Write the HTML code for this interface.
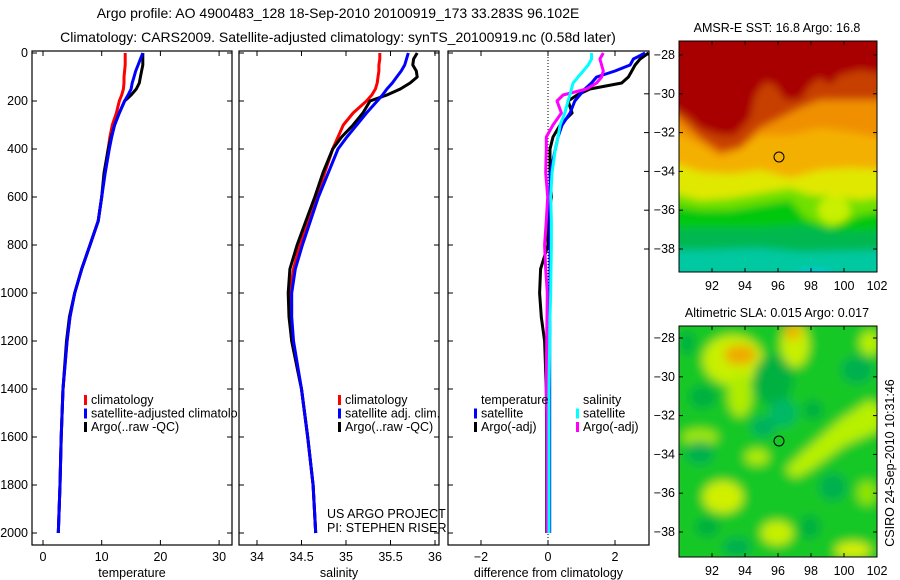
<!DOCTYPE html>
<html><head><meta charset="utf-8">
<style>
html,body{margin:0;padding:0;background:#fff;}
svg{display:block;font-family:"Liberation Sans",Arial,sans-serif;}
text{fill:#000;}
</style></head>
<body>
<svg id="fig" width="900" height="580" viewBox="0 0 900 580" xmlns="http://www.w3.org/2000/svg">
<defs>
  <clipPath id="c1"><rect x="32" y="51" width="200" height="494"/></clipPath>
  <clipPath id="c1l"><rect x="32" y="51" width="206" height="494"/></clipPath>
  <clipPath id="c2"><rect x="239" y="51" width="200" height="494"/></clipPath>
  <clipPath id="c3"><rect x="448" y="51" width="201" height="494"/></clipPath>
  <clipPath id="cm1"><rect x="679" y="41" width="198" height="231"/></clipPath>
  <clipPath id="cm2"><rect x="679" y="326" width="198" height="231"/></clipPath>
  <filter id="blur" x="-20%" y="-20%" width="140%" height="140%"><feGaussianBlur stdDeviation="4"/></filter>
  <filter id="blur2" x="-20%" y="-20%" width="140%" height="140%"><feGaussianBlur stdDeviation="5"/></filter>
</defs>

<text x="338" y="18" font-size="14" text-anchor="middle">Argo profile: AO 4900483_128 18-Sep-2010 20100919_173 33.283S 96.102E</text>
<text x="338" y="42" font-size="14" text-anchor="middle">Climatology: CARS2009. Satellite-adjusted climatology: synTS_20100919.nc (0.58d later)</text>

<g id="p1"></g>
<g id="p2"></g>
<g id="p3"></g>

<g>
 <text x="777" y="32" font-size="12.5" text-anchor="middle">AMSR-E SST: 16.8 Argo: 16.8</text>
 <g clip-path="url(#cm1)">
  <g filter="url(#blur)">
   <rect x="670" y="30" width="220" height="260" fill="#00c8a0"/>
   <polygon fill="#00b850" points="670,30 890,30 890,250 800,252 760,248 700,250 670,250"/>
   <polygon fill="#00c810" points="670,30 890,30 890,230 840,232 800,225 760,228 700,228 670,228"/>
   <polygon fill="#70e000" points="670,30 890,30 890,210 860,215 830,228 805,218 790,200 760,205 730,210 700,210 670,205"/>
   <ellipse cx="834" cy="210" rx="16" ry="14" fill="#c8f000"/>
   <polygon fill="#e0e800" points="670,30 890,30 890,195 860,200 830,196 810,195 790,188 760,193 730,198 700,200 670,192"/>
   <polygon fill="#f4b000" points="670,30 890,30 890,170 850,168 820,170 790,178 760,170 730,174 700,172 670,162"/>
   <polygon fill="#f09000" points="670,30 890,30 890,140 850,132 820,128 790,135 760,135 740,150 720,158 700,145 670,128"/>
   <polygon fill="#c84000" points="670,30 890,30 890,100 840,100 820,100 800,108 780,118 760,128 740,148 720,152 700,138 679,118 670,112"/>
   <polygon fill="#a80000" points="670,30 890,30 890,75 860,70 840,75 830,85 820,78 810,85 800,100 785,100 775,85 765,82 755,95 750,118 735,135 720,135 700,128 690,118 670,105"/>
  </g>
  <rect x="800" y="268" width="30" height="6" fill="#00c8e0" filter="url(#blur)"/>
 </g>
 <rect x="679" y="41" width="198" height="231" fill="none" stroke="#000" stroke-width="1"/>
 <circle cx="779" cy="157" r="5" fill="none" stroke="#000" stroke-width="1"/>
 <g id="m1ticks"></g>
</g>

<g>
 <text x="777" y="317" font-size="12.5" text-anchor="middle">Altimetric SLA: 0.015 Argo: 0.017</text>
 <g clip-path="url(#cm2)">
  <g filter="url(#blur2)">
   <rect x="670" y="316" width="220" height="250" fill="#18c828"/>
   <ellipse cx="733" cy="360" rx="30" ry="25" fill="#c8f000"/>
   <ellipse cx="740" cy="395" rx="12" ry="22" fill="#b0ec00"/>
   <ellipse cx="740" cy="355" rx="16" ry="10" fill="#f0a800"/>
   <ellipse cx="795" cy="345" rx="14" ry="22" fill="#c8f000"/>
   <ellipse cx="793" cy="332" rx="8" ry="8" fill="#f0b000"/>
   <polygon fill="#b8f000" points="785,470 800,455 840,420 870,400 885,410 880,430 845,445 810,470 795,478"/>
   <ellipse cx="723" cy="497" rx="20" ry="16" fill="#d0f000"/>
   <ellipse cx="700" cy="437" rx="18" ry="8" fill="#a0e800"/>
   <ellipse cx="757" cy="457" rx="12" ry="8" fill="#b0ec00"/>
   <ellipse cx="777" cy="533" rx="16" ry="12" fill="#c8f000"/>
   <ellipse cx="853" cy="550" rx="18" ry="8" fill="#d8f000"/>
   <ellipse cx="870" cy="343" rx="10" ry="12" fill="#b8f000"/>
   <ellipse cx="867" cy="493" rx="10" ry="12" fill="#90e400"/>
   <ellipse cx="773" cy="380" rx="20" ry="25" fill="#00b040"/>
   <ellipse cx="783" cy="413" rx="14" ry="14" fill="#00b868"/>
   <ellipse cx="763" cy="427" rx="12" ry="10" fill="#00b060"/>
   <ellipse cx="703" cy="397" rx="14" ry="12" fill="#00b040"/>
   <ellipse cx="700" cy="453" rx="14" ry="12" fill="#00b050"/>
   <ellipse cx="857" cy="370" rx="16" ry="14" fill="#00b050"/>
   <ellipse cx="833" cy="487" rx="14" ry="14" fill="#00b050"/>
   <ellipse cx="737" cy="547" rx="14" ry="10" fill="#00b050"/>
   <ellipse cx="810" cy="527" rx="10" ry="12" fill="#00b040"/>
   <ellipse cx="813" cy="410" rx="10" ry="10" fill="#00b040"/>
   <ellipse cx="687" cy="343" rx="8" ry="12" fill="#00b040"/>
   <ellipse cx="707" cy="527" rx="12" ry="10" fill="#00b040"/>
  </g>
 </g>
 <rect x="679" y="326" width="198" height="231" fill="none" stroke="#000" stroke-width="1"/>
 <circle cx="779" cy="441" r="5" fill="none" stroke="#000" stroke-width="1"/>
 <g id="m2ticks"></g>
</g>

<text transform="translate(894,463) rotate(-90)" font-size="12.5" text-anchor="middle">CSIRO 24-Sep-2010 10:31:46</text>
</svg>

<script>
const depthLevels = [0,25,50,75,100,125,150,175,200,250,300,350,400,500,600,700,800,900,1000,1100,1200,1400,1600,1800,2000];
const tempClim = [14.0,14.0,14.0,13.9,13.8,13.8,13.7,13.4,13.0,12.5,11.8,11.4,11.1,10.5,10.0,9.4,8.0,6.6,5.4,4.6,4.1,3.4,3.1,2.9,2.6];
const tempSat  = [17.0,16.6,16.2,15.8,15.5,15.2,15.0,14.5,13.9,13.0,12.2,11.7,11.3,10.6,10.0,9.4,8.0,6.6,5.4,4.6,4.1,3.4,3.1,2.9,2.6];
const tempArgo = [17.0,17.0,17.0,16.8,16.6,16.4,15.9,15.0,13.9,13.0,12.2,11.6,11.1,10.4,10.0,9.4,8.0,6.6,5.4,4.5,4.0,3.4,3.1,2.9,2.6];
const salClim  = [35.38,35.38,35.37,35.37,35.36,35.35,35.33,35.29,35.23,35.08,34.97,34.91,34.85,34.76,34.67,34.57,34.48,34.41,34.37,34.37,34.39,34.50,34.57,34.63,34.66];
const salSat   = [35.70,35.68,35.66,35.62,35.57,35.52,35.46,35.41,35.35,35.23,35.12,35.01,34.91,34.80,34.69,34.60,34.51,34.43,34.39,34.39,34.41,34.50,34.57,34.63,34.66];
const salArgo  = [35.80,35.76,35.75,35.79,35.80,35.72,35.61,35.46,35.27,35.19,35.08,34.95,34.85,34.74,34.65,34.55,34.45,34.37,34.35,34.36,34.39,34.50,34.57,34.63,34.66];
const dTempSat  = [2.9,2.55,2.45,2.0,1.45,1.3,1.1,0.95,0.8,0.66,0.42,0.3,0.22,0.07,0.06,0.06,0.06,0.06,0.06,0.06,0.05,0.05,0.05,0.05,0.05];
const dTempArgo = [3.0,2.75,2.6,2.5,2.4,2.2,1.25,0.87,0.6,0.72,0.36,0.15,0.06,0.06,0.1,0.0,0.0,-0.22,-0.25,-0.2,-0.1,-0.05,-0.04,-0.04,-0.04];
const dSalSat   = [1.3,1.3,1.2,1.05,0.9,0.75,0.7,0.65,0.6,0.5,0.36,0.3,0.22,0.12,0.08,0.1,0.1,0.09,0.08,0.06,0.05,0.03,0.03,0.03,0.03];
const dSalArgo  = [1.65,1.55,1.6,1.65,1.6,1.45,1.15,0.45,0.27,0.4,0.15,-0.05,-0.05,-0.07,-0.01,-0.05,-0.1,-0.07,-0.02,-0.03,-0.04,-0.05,-0.02,-0.02,-0.02];
const depthTicks = [0,200,400,600,800,1000,1200,1400,1600,1800,2000];
const tempTicks = [0,10,20,30];
const salTicks = [34,34.5,35,35.5,36];
const diffTicks = [-2,0,2];
const lonTicks = [92,94,96,98,100,102];
const latTicks = [-28,-30,-32,-34,-36,-38];

const yD = d => 53 + 0.24*d;
const xT = v => 43 + 5.87*v;
const xS = v => 257 + 89*(v-34);
const xDf = v => 548 + 33.5*v;
const xLon = v => 712 + 16.5*(v-92);
const yLat1 = v => 55 + 19.4*(-28 - v);
const yLat2 = v => 338 + 19.4*(-28 - v);

const NS = 'http://www.w3.org/2000/svg';
function mk(tag, attrs, parent){ const e=document.createElementNS(NS,tag); for(const k in attrs) e.setAttribute(k,attrs[k]); parent.appendChild(e); return e; }
function txt(str, attrs, parent){ const e=mk('text',attrs,parent); e.textContent=str; return e; }

function line(parent, xs, xf, color, name, clip){
  const pts = depthLevels.map((d,i)=> xf(xs[i]).toFixed(1)+','+yD(d).toFixed(1)).join(' ');
  const p = mk('polyline',{points:pts,fill:'none',stroke:color,'stroke-width':3,'stroke-linejoin':'round','clip-path':clip},parent);
  
  
}

function frame(parent, x0, x1, xt, xf, xlabel, yLabels, rightTicks){
  const yt=51, yb=545;
  mk('rect',{x:x0,y:yt,width:x1-x0,height:yb-yt,fill:'none',stroke:'#000','stroke-width':1.2},parent);
  xt.forEach(v=>{
    const x=xf(v);
    mk('line',{x1:x,x2:x,y1:yb,y2:yb-5,stroke:'#000'},parent);
    mk('line',{x1:x,x2:x,y1:yt,y2:yt+5,stroke:'#000'},parent);
    const t = txt(String(v).replace('-','\u2212'),{x:x,y:561,'font-size':12.5,'text-anchor':'middle'},parent);
    
    
  });
  const xl = txt(xlabel,{x:(x0+x1)/2,y:577,'font-size':12.5,'text-anchor':'middle'},parent);
  
  
  depthTicks.forEach(d=>{
    const y=yD(d);
    mk('line',{x1:x0,x2:x0+5,y1:y,y2:y,stroke:'#000'},parent);
    if(!rightTicks) mk('line',{x1:x1,x2:x1-5,y1:y,y2:y,stroke:'#000'},parent);
    if(yLabels){
      const t = txt(String(d),{x:28,y:y+4,'font-size':12.5,'text-anchor':'end'},parent);
      
      
    }
  });
}

function legend(parent, x, y0, items){
  items.forEach((it,i)=>{
    const y=y0+i*13.5;
    if(it.color) mk('rect',{x:x,y:y-9,width:3,height:10,fill:it.color},parent);
    const t = txt(it.label,{x:x+7,y:y,'font-size':12.5},parent);
    
    
  });
}

const p1=document.getElementById('p1');
line(p1,tempClim,xT,'#ff0000','temp-climatology-line','url(#c1)');
line(p1,tempArgo,xT,'#000000','temp-argo-line','url(#c1)');
line(p1,tempSat,xT,'#0000ff','temp-satellite-line','url(#c1)');
frame(p1,32,232,tempTicks,xT,'temperature',true,false);
const lg1 = mk('g',{'clip-path':'url(#c1l)'},p1);
legend(lg1,84,404,[{color:'#ff0000',label:'climatology'},{color:'#0000ff',label:'satellite-adjusted climatology'},{color:'#000',label:'Argo(..raw -QC)'}]);

const p2=document.getElementById('p2');
line(p2,salClim,xS,'#ff0000','sal-climatology-line','url(#c2)');
line(p2,salArgo,xS,'#000000','sal-argo-line','url(#c2)');
line(p2,salSat,xS,'#0000ff','sal-satellite-line','url(#c2)');
frame(p2,239,439,salTicks,xS,'salinity',false,false);
legend(p2,338,404,[{color:'#ff0000',label:'climatology'},{color:'#0000ff',label:'satellite adj. clim.'},{color:'#000',label:'Argo(..raw -QC)'}]);
const us = txt('US ARGO PROJECT',{x:327,y:518,'font-size':12.5},p2);


const pi = txt('PI: STEPHEN RISER',{x:327,y:532,'font-size':12.5},p2);



const p3=document.getElementById('p3');
mk('line',{x1:xDf(0),x2:xDf(0),y1:51,y2:545,stroke:'#000','stroke-dasharray':'1,2','stroke-width':1},p3);
line(p3,dTempArgo,xDf,'#000000','dtemp-argo-line','url(#c3)');
line(p3,dTempSat,xDf,'#0000ff','dtemp-satellite-line','url(#c3)');
line(p3,dSalArgo,xDf,'#ff00ff','dsal-argo-line','url(#c3)');
line(p3,dSalSat,xDf,'#00ffff','dsal-satellite-line','url(#c3)');
frame(p3,448,649,diffTicks,xDf,'difference from climatology',false,true);
latTicks.forEach(v=>{ mk('line',{x1:649,x2:644,y1:yLat1(v),y2:yLat1(v),stroke:'#000'},p3); });
legend(p3,474,404,[{color:null,label:'temperature'},{color:'#0000ff',label:'satellite'},{color:'#000',label:'Argo(-adj)'}]);
legend(p3,576,404,[{color:null,label:'salinity'},{color:'#00ffff',label:'satellite'},{color:'#ff00ff',label:'Argo(-adj)'}]);

function mapTicks(id, yl, top, bot){
  const g=document.getElementById(id);
  latTicks.forEach(v=>{
    const y=yl(v);
    mk('line',{x1:679,x2:683,y1:y,y2:y,stroke:'#000'},g);
    mk('line',{x1:877,x2:873,y1:y,y2:y,stroke:'#000'},g);
    const t = txt(String(v).replace('-','\u2212'),{x:675,y:y+4,'font-size':12.5,'text-anchor':'end'},g);
    
    
  });
  lonTicks.forEach(v=>{
    const x=xLon(v);
    mk('line',{x1:x,x2:x,y1:bot,y2:bot-4,stroke:'#000'},g);
    mk('line',{x1:x,x2:x,y1:top,y2:top+4,stroke:'#000'},g);
    const t = txt(String(v),{x:x,y:bot+18,'font-size':12.5,'text-anchor':'middle'},g);
    
    
  });
}
mapTicks('m1ticks',yLat1,41,272);
mapTicks('m2ticks',yLat2,326,557);
</script>
</body></html>
